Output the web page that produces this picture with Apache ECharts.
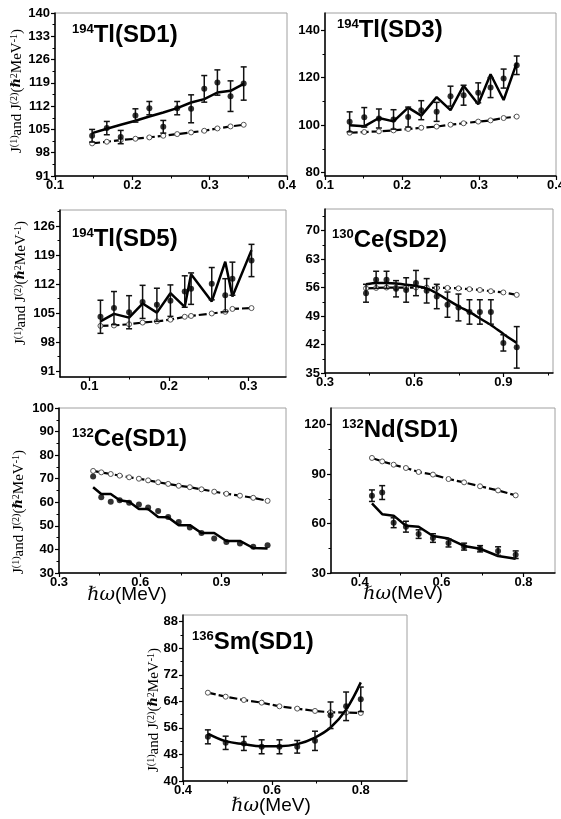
<!DOCTYPE html>
<html><head><meta charset="utf-8">
<script src="https://cdn.jsdelivr.net/npm/echarts@6/dist/echarts.min.js"></script>
<style>html,body{margin:0;padding:0;background:#fff}#c{width:561px;height:819px}</style>
</head><body><div id="c"></div>
<script>
// ---------- 194Tl(SD1)
const tl1X   = [0.148,0.167,0.185,0.204,0.222,0.240,0.258,0.276,0.293,0.310,0.327,0.344];
const tl1Exp = [103.1,105.4,102.7,109.2,111.4,105.8,111.4,111.2,117.2,119.1,115.0,118.8];
const tl1Err = [1.9,2.0,2.0,2.0,2.0,1.9,2.0,4.2,4.0,3.8,4.6,5.0];
const tl1J2  = [103.9,105.2,106.4,107.6,108.9,110.1,111.4,113.1,114.1,116.1,116.6,118.7];
const tl1J1  = [100.8,101.3,101.8,102.2,102.6,103.1,103.6,104.1,104.6,105.3,105.9,106.4];
const tl1XTicks = [0.1,0.2,0.3,0.4];
const tl1XMinor = [0.15,0.25,0.35];
const tl1YTicks = [91,98,105,112,119,126,133,140];
const tl1YMinor = [94.5,101.5,108.5,115.5,122.5,129.5,136.5];

// ---------- 194Tl(SD3)
const tl3X   = [0.132,0.151,0.170,0.189,0.208,0.225,0.245,0.263,0.280,0.299,0.315,0.332,0.349];
const tl3Exp = [101.4,103.3,102.8,102.4,103.4,106.3,105.6,112.2,112.6,113.6,115.8,119.6,125.2];
const tl3Err = [4.2,4.1,4.0,4.1,4.2,4.0,4.0,4.2,4.2,4.2,4.2,4.0,3.9];
const tl3J2  = [100.0,99.5,103.0,101.6,107.4,104.0,111.8,106.3,116.6,108.8,121.4,110.6,126.2];
const tl3J1  = [96.8,97.1,97.4,97.8,98.4,98.9,99.4,100.2,100.8,101.5,102.0,103.0,103.6];
const tl3XTicks = [0.1,0.2,0.3,0.4];
const tl3XMinor = [0.15,0.25,0.35];
const tl3YTicks = [80,100,120,140];
const tl3YMinor = [90,110,130];

// ---------- 194Tl(SD5)
const tl5X   = [0.114,0.131,0.150,0.167,0.185,0.202,0.220,0.228,0.254,0.271,0.280,0.304];
const tl5Exp = [104.1,106.2,105.2,107.7,107.0,108.0,110.2,110.9,112.1,109.3,113.3,117.7];
const tl5Err = [4.0,4.0,4.0,4.0,4.0,3.8,3.8,3.8,3.9,4.0,4.0,3.9];
const tl5J2  = [103.0,104.8,103.9,107.3,105.1,109.8,106.5,114.4,107.8,117.4,109.0,120.2];
const tl5J1  = [101.9,102.0,102.3,102.7,103.0,103.4,104.1,104.3,104.9,105.3,106.0,106.2];
const tl5XTicks = [0.1,0.2,0.3];
const tl5XMinor = [0.15,0.25];
const tl5YTicks = [91,98,105,112,119,126];
const tl5YMinor = [94.5,101.5,108.5,115.5,122.5,129.5];

// ---------- 130Ce(SD2)
const ce2X   = [0.438,0.472,0.507,0.539,0.573,0.606,0.642,0.676,0.712,0.749,0.786,0.821,0.858,0.900,0.945];
const ce2Exp = [54.6,57.9,57.9,55.7,55.4,57.1,55.2,53.8,51.8,51.1,50.0,50.0,50.0,42.4,41.3];
const ce2Err = [2.2,2.1,2.1,2.0,3.0,3.1,3.0,3.0,3.1,3.3,3.0,3.0,3.0,2.0,5.1];
const ce2J2  = [56.8,57.1,57.1,57.0,56.7,56.4,55.8,54.6,53.0,51.4,50.0,48.4,46.8,44.6,42.4];
const ce2J1  = [55.8,55.9,56.0,56.0,56.0,56.0,56.0,55.9,55.9,55.8,55.6,55.4,55.1,54.8,54.2];
const ce2XTicks = [0.3,0.6,0.9];
const ce2XMinor = [0.45,0.75,1.05];
const ce2YTicks = [35,42,49,56,63,70];
const ce2YMinor = [38.5,45.5,52.5,59.5,66.5,73.5];

// ---------- 132Ce(SD1)
const ce1X   = [0.426,0.456,0.491,0.524,0.559,0.595,0.629,0.666,0.703,0.742,0.783,0.826,0.873,0.918,0.968,1.017,1.070];
const ce1Exp = [70.9,62.1,60.2,60.9,59.8,59.1,57.8,56.3,53.8,51.6,49.3,47.0,44.6,43.2,42.5,41.1,41.8];
const ce1J2  = [66.4,63.5,63.5,60.9,60.2,57.1,57.1,53.8,53.6,50.3,50.3,47.0,47.0,43.6,43.6,40.6,40.4];
const ce1J1  = [73.3,72.7,72.0,71.3,70.6,70.0,69.3,68.5,67.8,67.0,66.4,65.5,64.5,63.6,62.8,61.9,60.6];
const ce1XTicks = [0.3,0.6,0.9];
const ce1XMinor = [0.45,0.75,1.05];
const ce1YTicks = [30,40,50,60,70,80,90,100];
const ce1YMinor = [35,45,55,65,75,85,95];

// ---------- 132Nd(SD1)
const nd1X   = [0.430,0.455,0.483,0.513,0.544,0.579,0.617,0.655,0.694,0.738,0.781];
const nd1Exp = [76.9,78.8,60.5,58.1,53.6,51.2,48.2,46.0,44.7,43.3,41.1];
const nd1Err = [3.5,4.2,3.0,3.3,2.6,2.6,2.4,2.1,1.9,2.6,2.3];
const nd1J2  = [72.3,65.7,64.8,58.7,58.1,52.4,50.9,46.4,44.7,40.3,38.6];
const nd1J1  = [99.8,97.7,95.7,93.7,91.3,89.7,87.0,85.0,82.6,80.1,77.1];
const nd1XTicks = [0.4,0.6,0.8];
const nd1XMinor = [0.5,0.7];
const nd1YTicks = [30,60,90,120];
const nd1YMinor = [45,75,105];

// ---------- 136Sm(SD1)
const sm1X   = [0.456,0.496,0.537,0.577,0.617,0.657,0.697,0.732,0.767,0.800];
const sm1Exp = [53.3,51.5,51.3,50.3,50.3,50.3,52.1,59.8,62.5,64.6];
const sm1Err = [2.1,2.0,2.1,2.1,2.1,1.9,2.9,4.0,4.3,3.7];
const sm1J2  = [54.3,52.0,51.1,50.5,50.5,51.1,53.1,56.1,61.5,69.7];
const sm1J1  = [66.6,65.4,64.4,63.6,62.5,61.8,61.1,60.7,60.6,60.5];
const sm1XTicks = [0.4,0.6,0.8];
const sm1XMinor = [0.5,0.7];
const sm1YTicks = [40,48,56,64,72,80,88];
const sm1YMinor = [44,52,60,68,76,84];

// ---------- panel definitions
const panels = [
  {box:[55,13,232,163], xr:[0.1,0.4], yr:[91,140], xt:tl1XTicks, xm:tl1XMinor, yt:tl1YTicks, ym:tl1YMinor,
   x:tl1X, exp:tl1Exp, err:tl1Err, j2:tl1J2, j1:tl1J1, sup:'194', name:'Tl(SD1)', tpos:[72,23], ytitle:[17,91]},
  {box:[325,13,231,163], xr:[0.1,0.4], yr:[78.6,147.2], xt:tl3XTicks, xm:tl3XMinor, yt:tl3YTicks, ym:tl3YMinor,
   x:tl3X, exp:tl3Exp, err:tl3Err, j2:tl3J2, j1:tl3J1, sup:'194', name:'Tl(SD3)', tpos:[337,18]},
  {box:[60,210,226,167], xr:[0.0631,0.3474], yr:[89.55,129.9], xt:tl5XTicks, xm:tl5XMinor, yt:tl5YTicks, ym:tl5YMinor,
   x:tl5X, exp:tl5Exp, err:tl5Err, j2:tl5J2, j1:tl5J1, sup:'194', name:'Tl(SD5)', tpos:[72,227], ytitle:[21,283]},
  {box:[325,209,228,164], xr:[0.3,1.067], yr:[35,75.3], xt:ce2XTicks, xm:ce2XMinor, yt:ce2YTicks, ym:ce2YMinor,
   x:ce2X, exp:ce2Exp, err:ce2Err, j2:ce2J2, j1:ce2J1, sup:'130', name:'Ce(SD2)', tpos:[332,228], smooth:0.2},
  {box:[59,408,227,165], xr:[0.3,1.138], yr:[30,100], xt:ce1XTicks, xm:ce1XMinor, yt:ce1YTicks, ym:ce1YMinor,
   x:ce1X, exp:ce1Exp, err:null, j2:ce1J2, j1:ce1J1, sup:'132', name:'Ce(SD1)', tpos:[72,427], ytitle:[19,512], xtitle:[127,595]},
  {box:[331,408,224,165], xr:[0.33,0.877], yr:[30,130.1], xt:nd1XTicks, xm:nd1XMinor, yt:nd1YTicks, ym:nd1YMinor,
   x:nd1X, exp:nd1Exp, err:nd1Err, j2:nd1J2, j1:nd1J1, sup:'132', name:'Nd(SD1)', tpos:[342,418], xtitle:[403,594]},
  {box:[183,615,224,166], xr:[0.4,0.904], yr:[40,90], xt:sm1XTicks, xm:sm1XMinor, yt:sm1YTicks, ym:sm1YMinor,
   x:sm1X, exp:sm1Exp, err:sm1Err, j2:sm1J2, j1:sm1J1, sup:'136', name:'Sm(SD1)', tpos:[192,630], ytitle:[154,710], xtitle:[271,806], smooth:0.4}
];

const grids=[], xAxes=[], yAxes=[], series=[], titles=[], graphics=[];
const zip = (a,b) => a.map((v,i)=>[v,b[i]]);

function mainAxis(dim, gi, r, ticks, fmt){
  return {type:'value', gridIndex:gi, position: dim==='x'?'bottom':'left', min:r[0], max:r[1], scale:true,
    axisLine:{show:true, onZero:false, lineStyle:{color:'#000', width:1.5}},
    axisTick:{show:true, inside:false, length:4, customValues:ticks, lineStyle:{color:'#000', width:1.2}},
    axisLabel:{show:true, customValues:ticks, formatter:fmt, margin: dim==='x'?3:5, color:'#000',
      fontFamily:'Liberation Sans, Arial, sans-serif', fontWeight:'bold', fontSize:13,
      showMinLabel:true, showMaxLabel:true, hideOverlap:false},
    splitLine:{show:false}, minorTick:{show:false}};
}
function minorAxis(dim, gi, r, ticks){
  return {type:'value', gridIndex:gi, position: dim==='x'?'bottom':'left', min:r[0], max:r[1], scale:true,
    axisLine:{show:false, onZero:false},
    axisTick:{show:true, inside:false, length:2.5, customValues:ticks, lineStyle:{color:'#000', width:1}},
    axisLabel:{show:false}, splitLine:{show:false}, minorTick:{show:false}};
}

const yTitleText = '{m|J}{s|(1)}{m|and J}{s|(2)}{m|(}{h|ℏ}{s|2}{m|MeV}{s|-1}{m|)}';
const yTitleRich = {
  m:{fontFamily:'Liberation Serif, Times New Roman, serif', fontSize:15, fill:'#000', color:'#000'},
  h:{fontFamily:'DejaVu Serif, serif', fontStyle:'italic', fontWeight:'bold', fontSize:13, fill:'#000', color:'#000'},
  s:{fontFamily:'Liberation Serif, Times New Roman, serif', fontSize:10, verticalAlign:'top', fill:'#000', color:'#000'}
};

panels.forEach((p) => {
  const gi = grids.length;
  grids.push({left:p.box[0], top:p.box[1], width:p.box[2], height:p.box[3], show:true,
    borderColor:'#a0a0a0', borderWidth:1, containLabel:false, outerBoundsMode:'none'});
  const xi = xAxes.length, yi = yAxes.length;
  xAxes.push(mainAxis('x', gi, p.xr, p.xt, v => (+v).toFixed(1)));
  xAxes.push(minorAxis('x', gi, p.xr, p.xm));
  yAxes.push(mainAxis('y', gi, p.yr, p.yt, v => String(Math.round(v))));
  yAxes.push(minorAxis('y', gi, p.yr, p.ym));

  series.push({type:'line', xAxisIndex:xi, yAxisIndex:yi, data:zip(p.x,p.j1), z:2,
    symbol:'circle', symbolSize:5, showSymbol:true,
    lineStyle:{color:'#000', width:2.2, type:[8,3]},
    itemStyle:{color:'#fff', borderColor:'#555', borderWidth:1}});
  series.push({type:'line', xAxisIndex:xi, yAxisIndex:yi, data:zip(p.x,p.j2), z:3,
    symbol:'none', showSymbol:false, smooth:p.smooth||false,
    lineStyle:{color:'#000', width:2.5}});
  if (p.err) {
    series.push({type:'custom', xAxisIndex:xi, yAxisIndex:yi, z:4,
      data: p.x.map((v,i)=>[v, p.exp[i]-p.err[i], p.exp[i]+p.err[i]]),
      encode:{x:0, y:[1,2]},
      renderItem:(params, api) => {
        const lo = api.coord([api.value(0), api.value(1)]);
        const hi = api.coord([api.value(0), api.value(2)]);
        const w = 3, st = {stroke:'#111', lineWidth:1.5};
        return {type:'group', children:[
          {type:'line', shape:{x1:lo[0],y1:lo[1],x2:hi[0],y2:hi[1]}, style:st},
          {type:'line', shape:{x1:lo[0]-w,y1:lo[1],x2:lo[0]+w,y2:lo[1]}, style:st},
          {type:'line', shape:{x1:hi[0]-w,y1:hi[1],x2:hi[0]+w,y2:hi[1]}, style:st}
        ]};
      }});
  }
  series.push({type:'scatter', xAxisIndex:xi, yAxisIndex:yi, data:zip(p.x,p.exp), z:5,
    symbol:'circle', symbolSize:6, itemStyle:{color:'#000'}});

  titles.push({left:p.tpos[0], top:p.tpos[1], padding:0, text:'{s|'+p.sup+'}{b|'+p.name+'}',
    textStyle:{rich:{
      s:{fontFamily:'Liberation Sans, Arial, sans-serif', fontSize:13, color:'#000', verticalAlign:'top'},
      b:{fontFamily:'Liberation Sans, Arial, sans-serif', fontSize:24, fontWeight:'bold', color:'#000'}
    }}});

  if (p.ytitle) {
    graphics.push({type:'text', x:p.ytitle[0], y:p.ytitle[1], rotation:Math.PI/2, silent:true,
      style:{text:yTitleText, rich:yTitleRich, align:'center', verticalAlign:'middle', fill:'#000'}});
  }
  if (p.xtitle) {
    graphics.push({type:'text', x:p.xtitle[0], y:p.xtitle[1], silent:true,
      style:{text:'{h|ℏω}{m|(MeV)}', align:'center', verticalAlign:'middle', fill:'#000',
        rich:{
          h:{fontFamily:'DejaVu Serif, serif', fontStyle:'italic', fontSize:19, fill:'#000'},
          m:{fontFamily:'Liberation Sans, Arial, sans-serif', fontSize:19, fill:'#000'}
        }}});
  }
});

const chart = echarts.init(document.getElementById('c'), null, {renderer:'canvas'});
chart.setOption({
  animation:false,
  backgroundColor:'#fff',
  title:titles,
  grid:grids,
  xAxis:xAxes,
  yAxis:yAxes,
  series:series,
  graphic:graphics
});
</script>
</body></html>
